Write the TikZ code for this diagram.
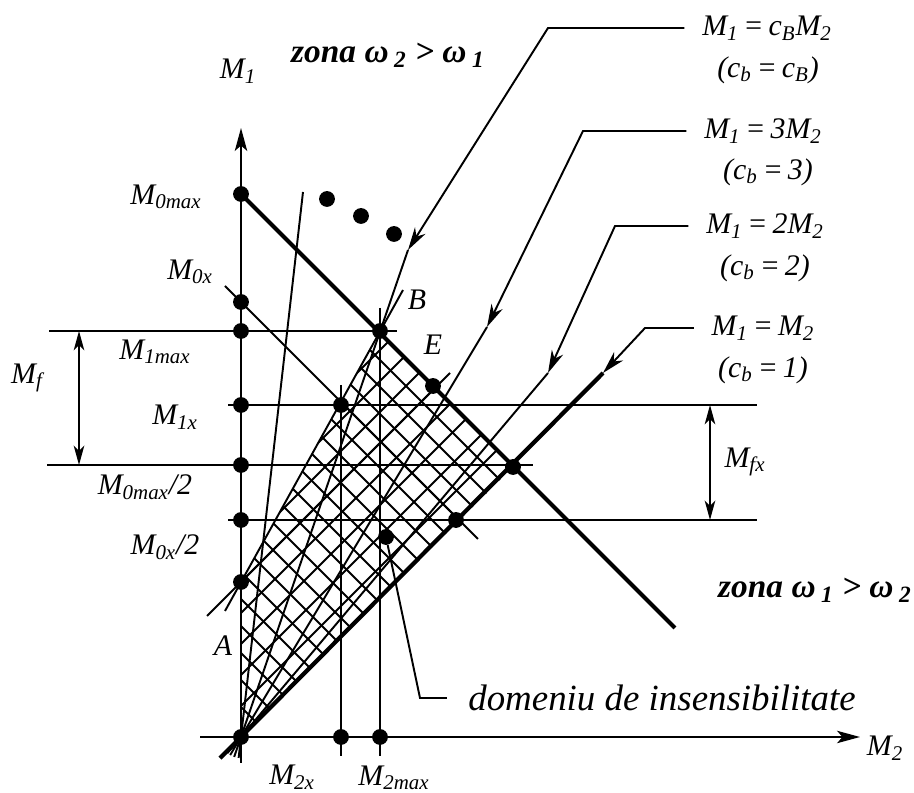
\documentclass[tikz,border=0pt]{standalone}
\usepackage{fontspec}
\setmainfont{Liberation Serif}
\usetikzlibrary{arrows.meta,calc}
\newcommand{\msub}[2]{\textit{#1}\textsubscript{\textit{#2}}}
\tikzset{
  thinln/.style={line width=1.1pt},
  boldln/.style={line width=2.4pt},
  hatch/.style={line width=1.1pt},
  axis/.style={line width=1.2pt,-{Stealth[length=13pt,width=7pt,inset=3pt]}},
  ldr/.style={line width=1.1pt,-{Stealth[length=13pt,width=7pt,inset=4pt]}},
  dimln/.style={line width=1.1pt,{Stealth[length=11pt,width=6pt,inset=3pt]}-{Stealth[length=11pt,width=6pt,inset=3pt]}},
  lbl/.style={font=\fontsize{17}{19}\selectfont\itshape,inner sep=0pt},
  eqlbl/.style={font=\fontsize{17}{19}\selectfont\itshape,inner sep=0pt},
  zonelbl/.style={font=\fontsize{19}{22}\selectfont\bfseries\itshape,inner sep=0pt},
  dot/.style={circle,fill,inner sep=0pt,minimum size=9pt},
}
\begin{document}
\begin{tikzpicture}[x=0.02cm,y=-0.02cm]
  \useasboundingbox (0,0) rectangle (914,793);
  % characteristic points
  \coordinate (O) at (241,737);
  \coordinate (A) at (241,582);
  \coordinate (B) at (380,331);
  \coordinate (E) at (433,386);
  \coordinate (C) at (513,467);
  \coordinate (D) at (456,520);
  \coordinate (X) at (341,405);
  \coordinate (Dm) at (386,537);
  \coordinate (T1) at (603,373);
  \coordinate (T2) at (548,373);
  \coordinate (T3) at (487,327);
  \coordinate (TB) at (408,250);
  \coordinate (S) at (303,192);
  % insensitivity domain
  \begin{scope}
    \clip (O) -- (C) -- (B) -- (A) -- cycle;
    \foreach \s in {3,30,...,516}
      \draw[hatch] (231,{727-\s}) -- ({251+\s},747);
    \foreach \k in {31,62,...,248}
      \draw[hatch] (231,{747-\k}) -- (741,{237-\k});
  \end{scope}
  % axes
  \draw[axis] (241,763) -- (241,128);
  \draw[axis] (200,737) -- (860,737);
  % horizontal and vertical guides
  \draw[thinln] (49,331) -- (397,331);
  \draw[thinln] (228,405) -- (757,405);
  \draw[thinln] (47,465) -- (533,465);
  \draw[thinln] (228,520) -- (757,520);
  \draw[thinln] (341,385) -- (341,756);
  \draw[thinln] (380,308) -- (380,756);
  \draw[dimln] (79,331) -- (79,465);
  \draw[dimln] (710,405) -- (710,520);
  % load lines
  \draw[boldln] (241,194) -- (675,628);
  \draw[thinln] (225,286) -- (478,539);
  \draw[thinln] (207,616) -- (450,373);
  \draw[thinln] (225,611) -- (403,290);
  % rays from the origin
  \draw[boldln] ($(O)!-17pt!(T1)$) -- (T1);
  \draw[thinln] ($(O)!-12pt!(T2)$) -- (T2);
  \draw[thinln] ($(O)!-12pt!(T3)$) -- (T3);
  \draw[thinln] ($(O)!-12pt!(TB)$) -- (TB);
  \draw[thinln] ($(O)!-12pt!(S)$) -- (S);
  % dots
  \foreach \y/\n in {194/a,302/b,331/c,405/d,465/e,520/f,582/g,737/h}
    \node[dot] (p\n) at (241,\y) {};
  \node[dot] (pm2x) at (341,737) {};
  \node[dot] (pm2m) at (380,737) {};
  \node[dot] (pB) at (B) {};
  \node[dot] (pX) at (X) {};
  \node[dot] (pE) at (E) {};
  \node[dot] (pC) at (C) {};
  \node[dot] (pD) at (D) {};
  \node[dot] (pDm) at (Dm) {};
  \node[dot] (q1) at (327,199) {};
  \node[dot] (q2) at (361,216) {};
  \node[dot] (q3) at (394,234) {};
  % right-hand labels
  \node[eqlbl] (eqB) at (767,28) {\msub{M}{1}\,=\,\msub{c}{B}\msub{M}{2}};
  \node[eqlbl] (cbB) at (768,70) {(\msub{c}{b}\,=\,\msub{c}{B})};
  \node[eqlbl] (eq3) at (763,131) {\msub{M}{1}\,=\,3\msub{M}{2}};
  \node[eqlbl] (cb3) at (768,172) {(\msub{c}{b}\,=\,3)};
  \node[eqlbl] (eq2) at (765,226) {\msub{M}{1}\,=\,2\msub{M}{2}};
  \node[eqlbl] (cb2) at (765,268) {(\msub{c}{b}\,=\,2)};
  \node[eqlbl] (eq1) at (763,328) {\msub{M}{1}\,=\,\msub{M}{2}};
  \node[eqlbl] (cb1) at (763,370) {(\msub{c}{b}\,=\,1)};
  \draw[ldr] ([xshift=-10pt]eqB.west) -- (548,28) -- (TB);
  \draw[ldr] ([xshift=-10pt]eq3.west) -- (583,131) -- (T3);
  \draw[ldr] ([xshift=-10pt]eq2.west) -- (615,226) -- (T2);
  \draw[ldr] ([xshift=-10pt]eq1.west) -- (645,328) -- (T1);
  % axis labels
  \node[lbl] (lM1) at (238,71) {\msub{M}{1}};
  \node[lbl] (lM2) at (885,748) {\msub{M}{2}};
  \node[lbl] (l0max) at (166,197) {\msub{M}{0max}};
  \node[lbl] (l0x) at (190,272) {\msub{M}{0x}};
  \node[lbl] (l1max) at (155,352) {\msub{M}{1max}};
  \node[lbl] (l1x) at (175,417) {\msub{M}{1x}};
  \node[lbl] (l0max2) at (145,487) {\msub{M}{0max}/2};
  \node[lbl] (l0x2) at (165,547) {\msub{M}{0x}/2};
  \node[lbl] (lMf) at (27,378) {\msub{M}{f}};
  \node[lbl] (lMfx) at (745,462) {\msub{M}{fx}};
  \node[lbl] (lA) at (223,646) {A};
  \node[lbl] (lB) at (417,300) {B};
  \node[lbl] (lE) at (433,345) {E};
  \node[lbl] (l2x) at (292,777) {\msub{M}{2x}};
  \node[lbl] (l2max) at (394,778) {\msub{M}{2max}};
  % zones
  \node[zonelbl] (z21) at (388,55) {zona ω\,\textsubscript{2} > ω\,\textsubscript{1}};
  \node[zonelbl] (z12) at (815,590) {zona ω\,\textsubscript{1} > ω\,\textsubscript{2}};
  \node[font=\fontsize{21}{25}\selectfont\itshape,inner sep=0pt,anchor=west] (dom) at (468,698) {domeniu de insensibilitate};
  \draw[thinln] (pDm) -- (420,698) -- ([xshift=-12pt]dom.west);
\end{tikzpicture}
\end{document}
